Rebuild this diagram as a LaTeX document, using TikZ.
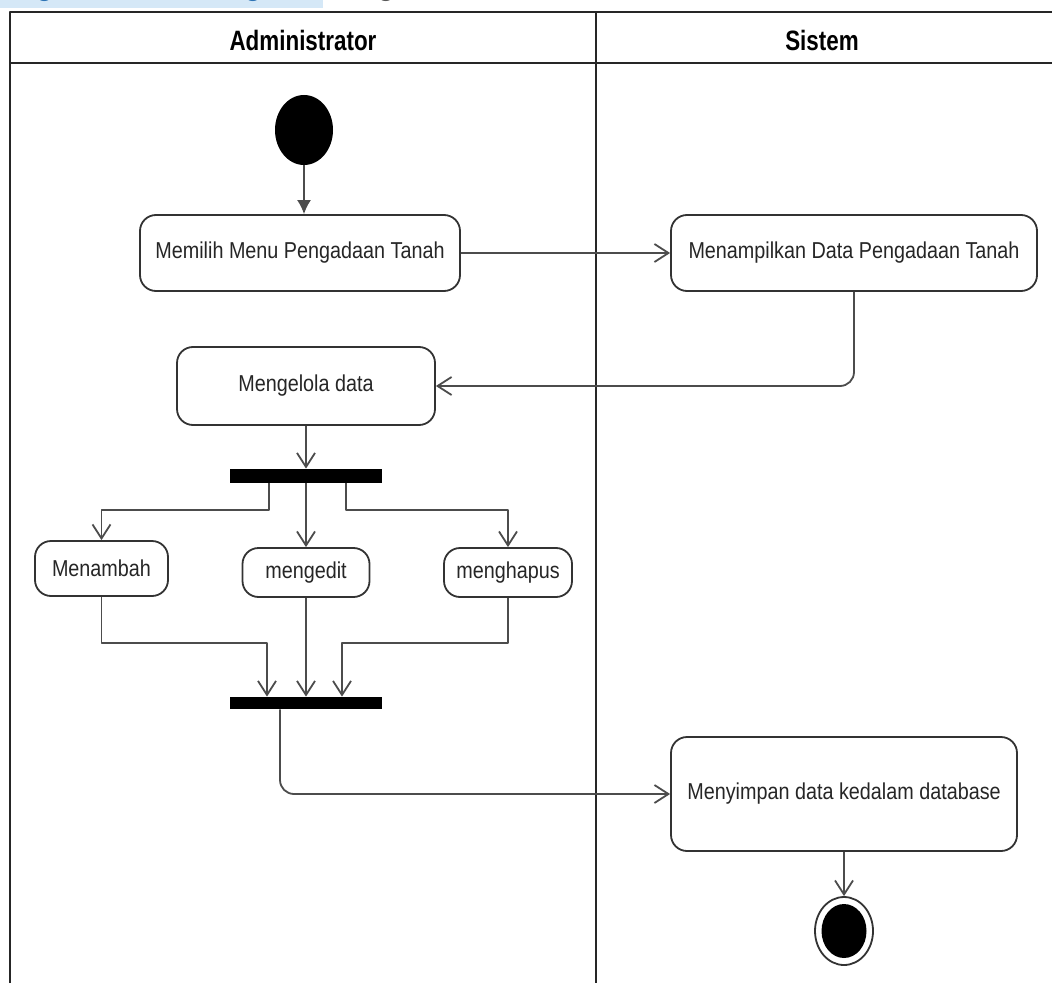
\documentclass[tikz,border=0pt]{standalone}
\usepackage{fontspec}
\usetikzlibrary{arrows.meta,shapes.geometric}
\newfontfamily\actfont[FakeStretch=0.86]{Liberation Sans}
\newfontfamily\lanefont[FakeStretch=0.8]{Liberation Sans Bold}
\newfontfamily\docfont{Carlito}
\definecolor{linkblue}{HTML}{2E74B5}
\definecolor{selblue}{HTML}{D5E8F7}
\definecolor{docgray}{HTML}{595959}
\tikzset{
	act/.style={draw=black!80, line width=0.9pt, rounded corners=8pt, fill=white, inner sep=0pt, text=black!85, font=\actfont\fontsize{11.5}{13}\selectfont},
	bar/.style={fill=black, inner sep=0pt, minimum width=76pt},
	flow/.style={draw=black!70, line width=0.9pt, -{Straight Barb[length=7pt,width=9pt]}},
	lane/.style={draw=black!85, line width=1.1pt},
	lanetitle/.style={inner sep=0pt, font=\lanefont\fontsize{14}{16}\selectfont},
}
\begin{document}
\begin{tikzpicture}[x=0.5pt, y=-0.5pt, line join=round]
	\useasboundingbox (0,0) rectangle (1052,983);
	
	\begin{scope}
		\clip (0,0) rectangle (1052,12);
		\fill[selblue] (0,0) rectangle (323,8);
		\path
		(318,-3) node[anchor=base east, inner sep=0pt, text=linkblue, font=\docfont\fontsize{14.75}{17}\selectfont] (doclink) {Diagram Admin Mengelola}
		(334,-3) node[anchor=base west, inner sep=0pt, text=docgray, font=\docfont\fontsize{14.75}{17}\selectfont] (docrest) {Pengadaan Tanah};
	\end{scope}
	
	\draw[lane]
	(10,983)--(10,12)--(1052,12)
	(10,63)--(1052,63)
	(596,12)--(596,983);
	
	\path
	(303,40) node[lanetitle] (admin) {Administrator}
	(822,40) node[lanetitle] (sistem) {Sistem}
	(304,130) node[ellipse, fill=black, inner sep=0pt, minimum width=29pt, minimum height=35pt] (start) {}
	(300,253) node[act, minimum width=160pt, minimum height=38pt] (memilih) {Memilih Menu Pengadaan Tanah}
	(854,253) node[act, minimum width=183pt, minimum height=38pt] (tampil) {Menampilkan Data Pengadaan Tanah}
	(306,386) node[act, minimum width=129pt, minimum height=39pt] (kelola) {Mengelola data}
	(306,476) node[bar, minimum height=7pt] (fork) {}
	(101.5,568.5) node[act, minimum width=66.5pt, minimum height=27.5pt] (tambah) {Menambah}
	(306,572.5) node[act, minimum width=63.5pt, minimum height=24.5pt] (edit) {mengedit}
	(508,572.5) node[act, minimum width=64pt, minimum height=24.5pt] (hapus) {menghapus}
	(306,703) node[bar, minimum height=6pt] (join) {}
	(844,794) node[act, minimum width=173pt, minimum height=57pt] (simpan) {Menyimpan data kedalam database}
	(844,931) node[ellipse, draw=black!80, line width=0.9pt, inner sep=0pt, minimum width=29pt, minimum height=34pt] (fin) {}
	(844,931) node[ellipse, fill=black, inner sep=0pt, minimum width=22.5pt, minimum height=27pt] (fincore) {}
	(0,510) coordinate (split)
	(0,643) coordinate (merge);
	
	\draw[draw=black!70, line width=0.9pt, -{Latex[length=7pt,width=7pt]}] (start.south) -- (start.south |- memilih.north);
	
	\foreach \from/\to in {memilih.east/tampil.west, kelola.south/fork.north, fork.south/edit.north, edit.south/join.north, simpan.south/fin.north}
	\draw[flow] (\from) -- (\to);
	
	\draw[flow, rounded corners=7pt] (tampil.south) |- (kelola.east);
	\draw[flow] ([xshift=-18.5pt]fork.south) -- ([xshift=-18.5pt]fork.south |- split) -| (tambah.north);
	\draw[flow] ([xshift=20pt]fork.south) -- ([xshift=20pt]fork.south |- split) -| (hapus.north);
	\draw[flow] (tambah.south) -- (tambah.south |- merge) -| ([xshift=-19.5pt]join.north);
	\draw[flow] (hapus.south) -- (hapus.south |- merge) -| ([xshift=18pt]join.north);
	\draw[flow, rounded corners=7pt] ([xshift=-13pt]join.south) |- (simpan.west);
\end{tikzpicture}
\end{document}
